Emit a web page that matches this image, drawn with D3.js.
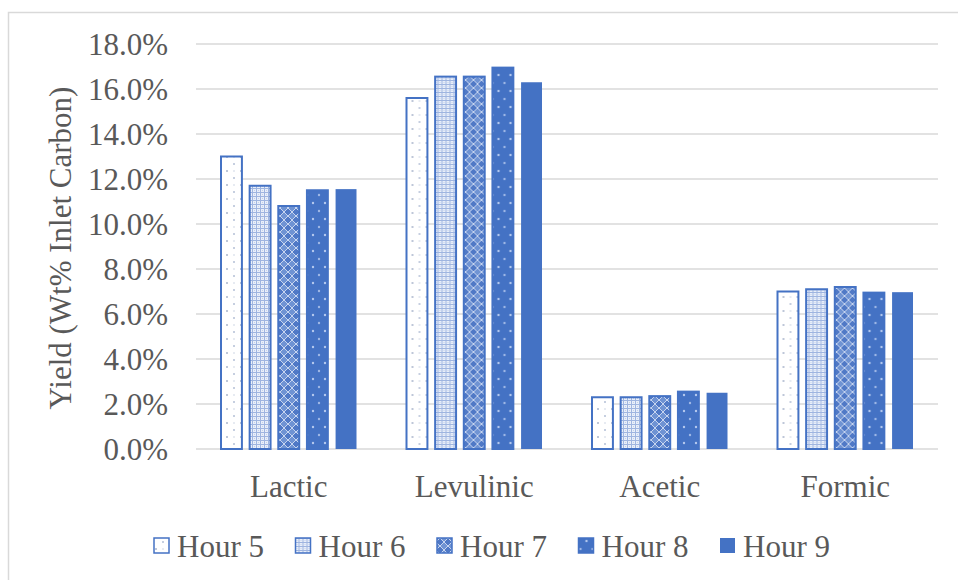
<!DOCTYPE html>
<html>
<head>
<meta charset="utf-8">
<script src="https://cdn.jsdelivr.net/npm/d3@7"></script>
<style>
  html, body { margin: 0; padding: 0; background: #fff; }
  svg { display: block; }
</style>
</head>
<body>
<svg id="chart" width="958" height="580"></svg>
<script>
// Yields of the four acids, one bar per sampling hour
const categories = ["Lactic", "Levulinic", "Acetic", "Formic"];
const seriesNames = ["Hour 5", "Hour 6", "Hour 7", "Hour 8", "Hour 9"];
const hour5 = [13.0, 15.6, 2.3, 7.0];
const hour6 = [11.7, 16.55, 2.3, 7.1];
const hour7 = [10.8, 16.55, 2.35, 7.2];
const hour8 = [11.5, 16.95, 2.55, 6.95];
const hour9 = [11.55, 16.3, 2.5, 6.97];
const yTicks = [0, 2, 4, 6, 8, 10, 12, 14, 16, 18];
const yTitle = "Yield (Wt% Inlet Carbon)";

const seriesValues = [hour5, hour6, hour7, hour8, hour9];
const blue = "#4472C4";
const textColor = "#595959";
const font = "'Liberation Serif', 'Times New Roman', serif";

const svg = d3.select("#chart");

// Outer chart frame
svg.append("rect")
  .attr("x", 8.5).attr("y", 12.5)
  .attr("width", 960).attr("height", 580)
  .attr("fill", "none").attr("stroke", "#d9d9d9").attr("stroke-width", 1.5);

// Fill patterns for the hour series
const defs = svg.append("defs");

// Hour 5: white with sparse small dots
const p5 = defs.append("pattern").attr("id", "pat5")
  .attr("patternUnits", "userSpaceOnUse").attr("width", 14).attr("height", 14);
p5.append("rect").attr("width", 14).attr("height", 14).attr("fill", "#ffffff");
p5.append("circle").attr("cx", 3).attr("cy", 3).attr("r", 1).attr("fill", "#a8b4cc");
p5.append("circle").attr("cx", 10).attr("cy", 10).attr("r", 1).attr("fill", "#b3bfd6");
p5.append("circle").attr("cx", 10).attr("cy", 3).attr("r", 0.8).attr("fill", "#c9d2e3");

// Hour 6: fine light lattice with dots
const p6 = defs.append("pattern").attr("id", "pat6")
  .attr("patternUnits", "userSpaceOnUse").attr("width", 4).attr("height", 4);
p6.append("rect").attr("width", 4).attr("height", 4).attr("fill", "#e9eff9");
p6.append("rect").attr("x", 0).attr("y", 0).attr("width", 4).attr("height", 1).attr("fill", "#9fb5e0");
p6.append("rect").attr("x", 0).attr("y", 0).attr("width", 1).attr("height", 4).attr("fill", "#9fb5e0");
p6.append("rect").attr("x", 2).attr("y", 2).attr("width", 1).attr("height", 1).attr("fill", "#c3d1ec");

// Hour 7: diamond lattice on mid blue
const p7 = defs.append("pattern").attr("id", "pat7")
  .attr("patternUnits", "userSpaceOnUse").attr("width", 8).attr("height", 8);
p7.append("rect").attr("width", 8).attr("height", 8).attr("fill", "#6f93d3");
p7.append("path").attr("d", "M4,0 L8,4 L4,8 L0,4 Z")
  .attr("fill", "#5079c6").attr("stroke", "#c7d5ef").attr("stroke-width", 1);

// Hour 8: blue with sparse light dots
const p8 = defs.append("pattern").attr("id", "pat8")
  .attr("patternUnits", "userSpaceOnUse").attr("width", 12).attr("height", 16);
p8.append("rect").attr("width", 12).attr("height", 16).attr("fill", blue);
p8.append("circle").attr("cx", 3).attr("cy", 3).attr("r", 1.2).attr("fill", "#9fb8e6");
p8.append("circle").attr("cx", 9).attr("cy", 11).attr("r", 1.2).attr("fill", "#b4c8ee");

const fills = ["url(#pat5)", "url(#pat6)", "url(#pat7)", "url(#pat8)", blue];
const strokes = [blue, blue, blue, blue, "none"];

// Scales
const plotLeft = 196, plotRight = 938;
const y = d3.scaleLinear().domain([0, 18]).range([449, 44]);
const x0 = d3.scaleBand().domain(categories).range([plotLeft, plotRight]).padding(0);
const groupHalf = 68.75;
const x1 = d3.scaleBand().domain(seriesNames)
  .range([x0.bandwidth() / 2 - groupHalf, x0.bandwidth() / 2 + groupHalf])
  .paddingInner(0.2).paddingOuter(0);

// Gridlines
svg.append("g").selectAll("line").data(yTicks).join("line")
  .attr("x1", plotLeft).attr("x2", plotRight)
  .attr("y1", d => y(d)).attr("y2", d => y(d))
  .attr("stroke", "#d9d9d9").attr("stroke-width", 1.5);

// Y axis tick labels
const yAxis = d3.axisLeft(y).tickValues(yTicks)
  .tickFormat(d => d3.format(".1f")(d) + "%").tickSize(0).tickPadding(0);
const gy = svg.append("g").attr("transform", "translate(168,0)").call(yAxis);
gy.select(".domain").remove();
gy.selectAll("text").attr("font-family", font).attr("font-size", 31)
  .attr("fill", textColor).attr("dy", "0.34em");

// X axis category labels
const xAxis = d3.axisBottom(x0).tickSize(0).tickPadding(0);
const gx = svg.append("g").attr("transform", "translate(0,503)").call(xAxis);
gx.select(".domain").remove();
gx.selectAll("text").attr("font-family", font).attr("font-size", 31)
  .attr("fill", textColor).attr("dy", "-0.2em");

// Bars
const groups = svg.append("g").selectAll("g").data(categories).join("g")
  .attr("transform", c => `translate(${x0(c)},0)`);
groups.selectAll("rect")
  .data((c, ci) => seriesNames.map((s, si) => ({ s, si, v: seriesValues[si][ci] })))
  .join("rect")
  .attr("x", d => x1(d.s) + 1)
  .attr("width", x1.bandwidth() - 2)
  .attr("y", d => y(d.v))
  .attr("height", d => y(0) - y(d.v))
  .attr("fill", d => fills[d.si])
  .attr("stroke", d => strokes[d.si])
  .attr("stroke-width", 2);

// Y axis title
svg.append("text")
  .attr("transform", "translate(71,248) rotate(-90)")
  .attr("text-anchor", "middle")
  .attr("font-family", font).attr("font-size", 31).attr("fill", textColor)
  .text(yTitle);

// Legend
const legend = svg.append("g").selectAll("g").data(seriesNames).join("g")
  .attr("transform", (d, i) => `translate(${153 + i * 141.5},546)`);
legend.append("rect")
  .attr("x", 1).attr("y", -8).attr("width", 15).attr("height", 15)
  .attr("fill", (d, i) => fills[i])
  .attr("stroke", (d, i) => strokes[i]).attr("stroke-width", 1.5);
legend.append("text")
  .attr("x", 24).attr("dy", "0.34em")
  .attr("font-family", font).attr("font-size", 31).attr("fill", textColor)
  .text(d => d);
</script>
</body>
</html>
